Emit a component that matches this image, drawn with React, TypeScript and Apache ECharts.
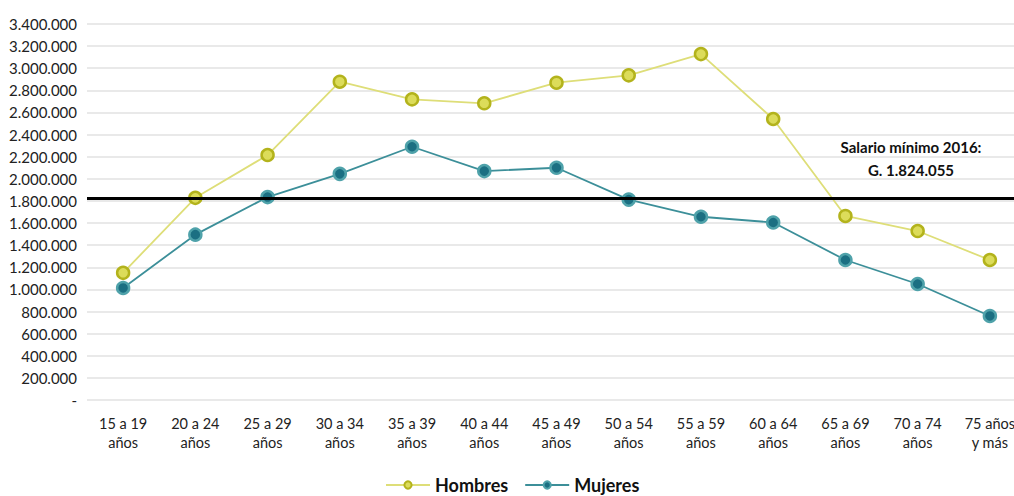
import React, { useEffect, useRef } from "react";
import * as echarts from "echarts";

// Age brackets on the category axis
const categories = [
  "15 a 19\naños",
  "20 a 24\naños",
  "25 a 29\naños",
  "30 a 34\naños",
  "35 a 39\naños",
  "40 a 44\naños",
  "45 a 49\naños",
  "50 a 54\naños",
  "55 a 59\naños",
  "60 a 64\naños",
  "65 a 69\naños",
  "70 a 74\naños",
  "75 años\ny más",
];

// Average income by age bracket (guaraníes)
const hombres = [
  1150000, 1828000, 2215000, 2878000, 2719000, 2683000, 2869000, 2936000,
  3128000, 2541000, 1664000, 1528000, 1266000,
];
const mujeres = [
  1013000, 1495000, 1835000, 2045000, 2290000, 2070000, 2100000, 1812000,
  1657000, 1605000, 1266000, 1049000, 760000,
];

const salarioMinimo = 1824055;
const salarioLabel = ["Salario mínimo 2016:", "G. 1.824.055"];

const yMax = 3400000;
const yStep = 200000;

const FONT = "Lato, 'Noto Sans', sans-serif";

function formatMiles(v: number): string {
  if (v === 0) return "-";
  return Math.round(v)
    .toString()
    .replace(/\B(?=(\d{3})+(?!\d))/g, ".");
}

export default function App() {
  const ref = useRef<HTMLDivElement>(null);

  useEffect(() => {
    document.body.style.margin = "0";
    document.body.style.overflow = "hidden";
    if (!ref.current) return;
    const chart = echarts.init(ref.current, null, { renderer: "svg" });
    chart.setOption({
      animation: false,
      backgroundColor: "#ffffff",
      textStyle: { fontFamily: FONT },
      // the plot runs past the visible right edge, so the canvas is wider than the page
      grid: { left: 87, right: 0, top: 24, bottom: 96, containLabel: false },
      legend: {
        top: 471,
        left: 380,
        itemWidth: 44,
        itemHeight: 9,
        itemGap: 16,
        textStyle: {
          fontFamily: FONT,
          fontSize: 18,
          fontWeight: "bold",
          color: "#111",
        },
        data: ["Hombres", "Mujeres"],
      },
      xAxis: {
        type: "category",
        data: categories,
        boundaryGap: true,
        axisLine: { show: false },
        axisTick: { show: false },
        axisLabel: {
          interval: 0,
          margin: 14,
          fontFamily: FONT,
          fontSize: 14.5,
          lineHeight: 19,
          color: "#222",
        },
      },
      yAxis: {
        type: "value",
        min: 0,
        max: yMax,
        interval: yStep,
        axisLine: { show: false },
        axisTick: { show: false },
        splitLine: { lineStyle: { color: "#e2e2e2", width: 1.5 } },
        axisLabel: {
          margin: 10,
          fontFamily: FONT,
          fontSize: 15,
          color: "#222",
          formatter: (v: number) => formatMiles(v),
        },
      },
      series: [
        {
          name: "Hombres",
          type: "line",
          data: hombres,
          symbol: "circle",
          symbolSize: 12,
          lineStyle: { color: "#dede78", width: 1.8 },
          itemStyle: {
            color: "#dcdc5a",
            borderColor: "#b3b31c",
            borderWidth: 2.5,
          },
          z: 3,
          markLine: {
            silent: true,
            symbol: "none",
            label: { show: false },
            lineStyle: { color: "#000", width: 3, type: "solid" },
            data: [{ yAxis: salarioMinimo }],
          },
        },
        {
          name: "Mujeres",
          type: "line",
          data: mujeres,
          symbol: "circle",
          symbolSize: 12,
          lineStyle: { color: "#3c8f99", width: 1.8 },
          itemStyle: {
            color: "#1b6f82",
            borderColor: "#4fa2aa",
            borderWidth: 2.5,
          },
          z: 4,
        },
      ],
      graphic: [
        {
          type: "text",
          x: 911,
          y: 147,
          style: {
            text: salarioLabel[0],
            align: "center",
            verticalAlign: "middle",
            fontFamily: FONT,
            fontSize: 15,
            fontWeight: "bold",
            fill: "#111",
          },
        },
        {
          type: "text",
          x: 911,
          y: 170,
          style: {
            text: salarioLabel[1],
            align: "center",
            verticalAlign: "middle",
            fontFamily: FONT,
            fontSize: 15,
            fontWeight: "bold",
            fill: "#111",
          },
        },
      ],
    });
    return () => chart.dispose();
  }, []);

  return <div ref={ref} style={{ width: 1026, height: 496 }} />;
}
